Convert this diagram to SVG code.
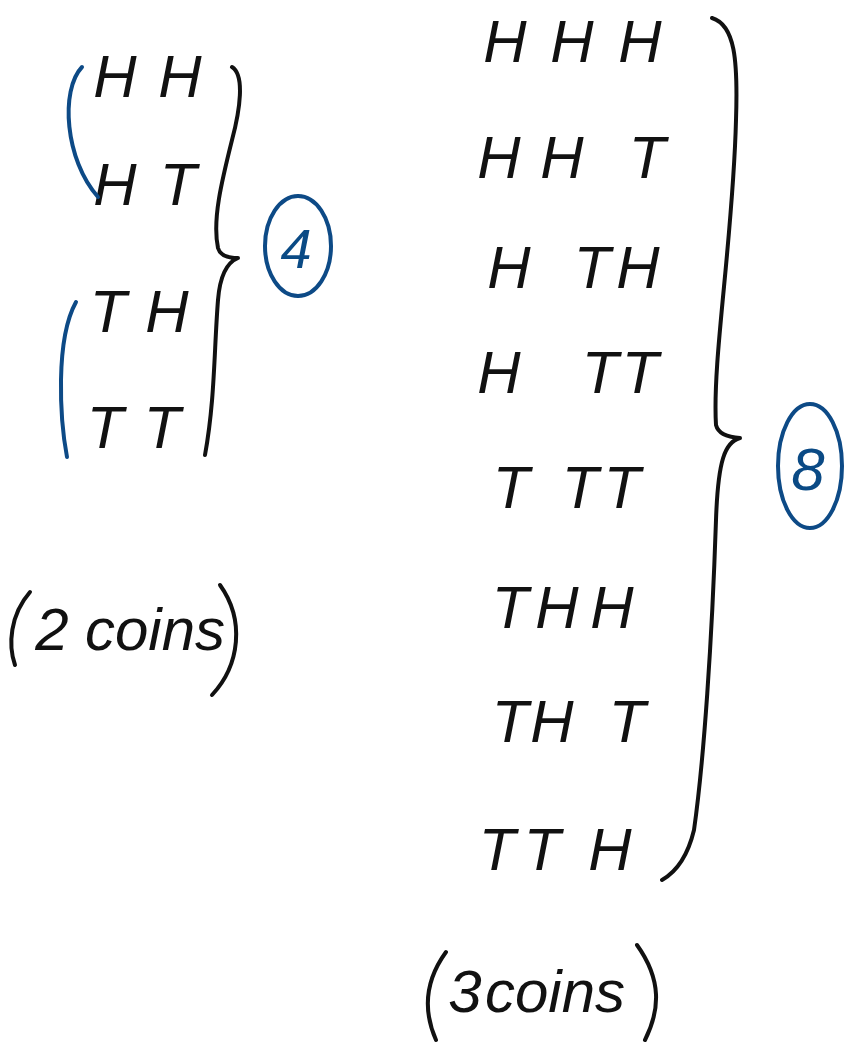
<svg xmlns="http://www.w3.org/2000/svg" width="858" height="1052" viewBox="0 0 858 1052">
<style>
.t{font-family:"Liberation Sans",sans-serif;font-style:italic;font-size:60px;fill:#111;text-anchor:middle}
.b{fill:#0a4a85}
.k{fill:none;stroke:#111;stroke-width:4;stroke-linecap:round;stroke-linejoin:round}
.u{fill:none;stroke:#0d4a86;stroke-width:4;stroke-linecap:round}
</style>
<rect width="858" height="1052" fill="#fff"/>
<g id="left-rows">
<text class="t" x="115 180" y="97">HH</text>
<text class="t" x="115 178" y="205">HT</text>
<text class="t" x="108 167" y="332">TH</text>
<text class="t" x="105 162" y="448">TT</text>
</g>
<g id="right-rows">
<text class="t" x="505 572 640" y="62">HHH</text>
<text class="t" x="499 562 647" y="178">HHT</text>
<text class="t" x="509 592 638" y="288">HTH</text>
<text class="t" x="499 600 640" y="393">HTT</text>
<text class="t" x="511 580 622" y="508">TTT</text>
<text class="t" x="510 557 612" y="628">THH</text>
<text class="t" x="510 552 627" y="742">THT</text>
<text class="t" x="497 542 610" y="870">TTH</text>
</g>
<g id="count-4">
<ellipse class="u" cx="298" cy="246" rx="33" ry="50"/>
<text class="t b" x="296" y="268" style="font-size:56px">4</text>
</g>
<g id="count-8">
<ellipse class="u" cx="810" cy="466" rx="32" ry="62"/>
<text class="t b" x="808" y="490" style="font-size:60px">8</text>
</g>
<g id="label-2coins">
<path class="k" d="M30 592 C10 615 8 645 15 665"/>
<text class="t" x="52 155" y="650">2</text>
<text class="t" x="155" y="650">coins</text>
<path class="k" d="M220 585 C245 620 240 665 212 695"/>
</g>
<g id="label-3coins">
<path class="k" d="M446 952 C422 985 425 1015 436 1040"/>
<text class="t" x="465" y="1012">3</text>
<text class="t" x="555" y="1012">coins</text>
<path class="k" d="M637 945 C662 980 660 1010 645 1040"/>
</g>
<g id="connectors">
<path class="u" d="M82 67 C60 90 65 160 98 197"/>
<path class="u" d="M76 302 C55 340 60 420 67 457"/>
<path class="k" d="M232 67 C245 75 240 110 232 140 C222 180 212 220 218 248 C220 255 228 258 238 258 C228 262 220 275 218 300 C214 350 215 400 205 455"/>
<path class="k" d="M712 18 C735 25 738 60 736 120 C733 240 712 360 716 425 C718 433 725 437 740 438 C725 442 718 460 716 520 C712 640 704 760 694 830 C688 855 676 872 662 880"/>
</g>
</svg>
